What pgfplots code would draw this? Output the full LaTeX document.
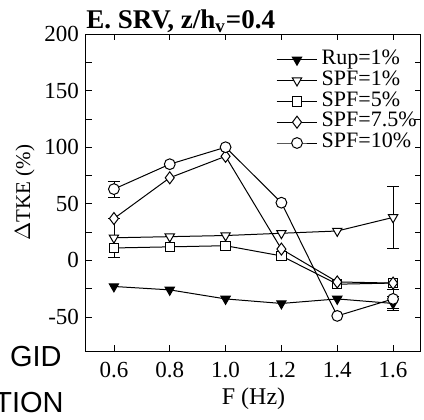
\documentclass[border=0pt]{standalone}
\usepackage{pgfplots}
\pgfplotsset{compat=1.18}
\usepackage{fontspec}
\setmainfont{Liberation Serif}
\newfontfamily\arialfont{Liberation Sans}
\begin{document}
\begin{tikzpicture}
\begin{axis}[
  scale only axis,
  width=167.5pt, height=158.5pt,
  xmin=0.5, xmax=1.7, ymin=-80, ymax=200,
  xtick={0.6,0.8,1.0,1.2,1.4,1.6},
  ytick={-50,0,50,100,150,200},
  minor y tick num=1,
  tick align=inside,
  major tick length=3pt, minor tick length=3pt,
  tick style={black, line width=0.4pt},
  axis line style={line width=0.5pt},
  /pgf/number format/assume math mode=true,
  xticklabel style={/pgf/number format/fixed, /pgf/number format/fixed zerofill, /pgf/number format/precision=1, font=\fontsize{11.5}{13}\selectfont, yshift=-2pt},
  yticklabel style={font=\fontsize{11.5}{13}\selectfont},
  xlabel={F (Hz)}, ylabel={$\Delta$TKE (\%)},
  xlabel style={font=\fontsize{12}{13}\selectfont, yshift=2pt},
  ylabel style={font=\fontsize{10.5}{12}\selectfont, yshift=-2pt},
  legend style={draw=none, fill=none, at={(rel axis cs:1,1)}, anchor=north east, xshift=-2pt, yshift=-7.5pt, font=\fontsize{11}{12}\selectfont, row sep=0pt, inner sep=0pt, nodes={inner sep=0pt, text height=7.5pt, text depth=2.9pt}},
  legend cell align=left,
  legend image code/.code={\draw[mark repeat=2,mark phase=2,#1] plot coordinates {(0cm,0cm)(0.36cm,0cm)(0.72cm,0cm)};},
  every axis plot/.append style={black, line width=0.5pt, mark size=2.7pt},
  clip=false,
]
% error bars (drawn first, single points so no line)
\addplot[forget plot, mark=none, error bars/.cd, y dir=both, y explicit, error mark options={rotate=90, mark size=3pt, black}] coordinates {(0.6,63) +- (0,7)};
\addplot[forget plot, mark=none, error bars/.cd, y dir=both, y explicit, error mark options={rotate=90, mark size=3pt, black}] coordinates {(0.6,20) +- (0,17)};
\addplot[forget plot, mark=none, error bars/.cd, y dir=both, y explicit, error mark options={rotate=90, mark size=3pt, black}] coordinates {(1.6,38) +- (0,27)};
\addplot[forget plot, mark=none, error bars/.cd, y dir=both, y explicit, error mark options={rotate=90, mark size=3pt, black}] coordinates {(1.6,-38) +- (0,6)};
\addplot[forget plot, mark=none, error bars/.cd, y dir=both, y explicit, error mark options={rotate=90, mark size=3pt, black}] coordinates {(1.6,-34) +- (0,8)};

\addplot[mark=triangle*, mark options={rotate=180, fill=black}] coordinates {
  (0.6,-23) (0.8,-26) (1.0,-34) (1.2,-38) (1.4,-34) (1.6,-38)};
\addlegendentry{\,Rup=1\%}
\addplot[mark=triangle*, mark options={rotate=180, fill=white}] coordinates {
  (0.6,20) (0.8,21) (1.0,22) (1.2,24) (1.4,26) (1.6,38)};
\addlegendentry{\,SPF=1\%}
\addplot[mark=square*, mark options={fill=white, mark size=2.3pt}] coordinates {
  (0.6,11) (0.8,12) (1.0,13) (1.2,4) (1.4,-21) (1.6,-20)};
\addlegendentry{\,SPF=5\%}
\addplot[mark=diamond*, mark options={fill=white, mark size=3pt}] coordinates {
  (0.6,37) (0.8,73) (1.0,92) (1.2,10) (1.4,-19) (1.6,-20)};
\addlegendentry{\,SPF=7.5\%}
\addplot[mark=*, mark options={fill=white}] coordinates {
  (0.6,63) (0.8,85) (1.0,100) (1.2,51) (1.4,-49) (1.6,-34)};
\addlegendentry{\,SPF=10\%}

\node[anchor=base west, font=\bfseries\fontsize{13.5}{15}\selectfont, inner sep=0pt] at ([yshift=3pt]rel axis cs:0,1) {E. SRV, z/h\textsubscript{v}=0.4};
\end{axis}
\node[anchor=base east, font=\arialfont\fontsize{14.5}{16}\selectfont, inner sep=0pt] at (-12pt,-7.5pt) {GID};
\node[anchor=base east, font=\arialfont\fontsize{14.5}{16}\selectfont, inner sep=0pt] at (-11pt,-30.5pt) {TION};
\pgfresetboundingbox
\useasboundingbox (-43pt,-34pt) rectangle (169pt,175.5pt);
\end{tikzpicture}
\end{document}
